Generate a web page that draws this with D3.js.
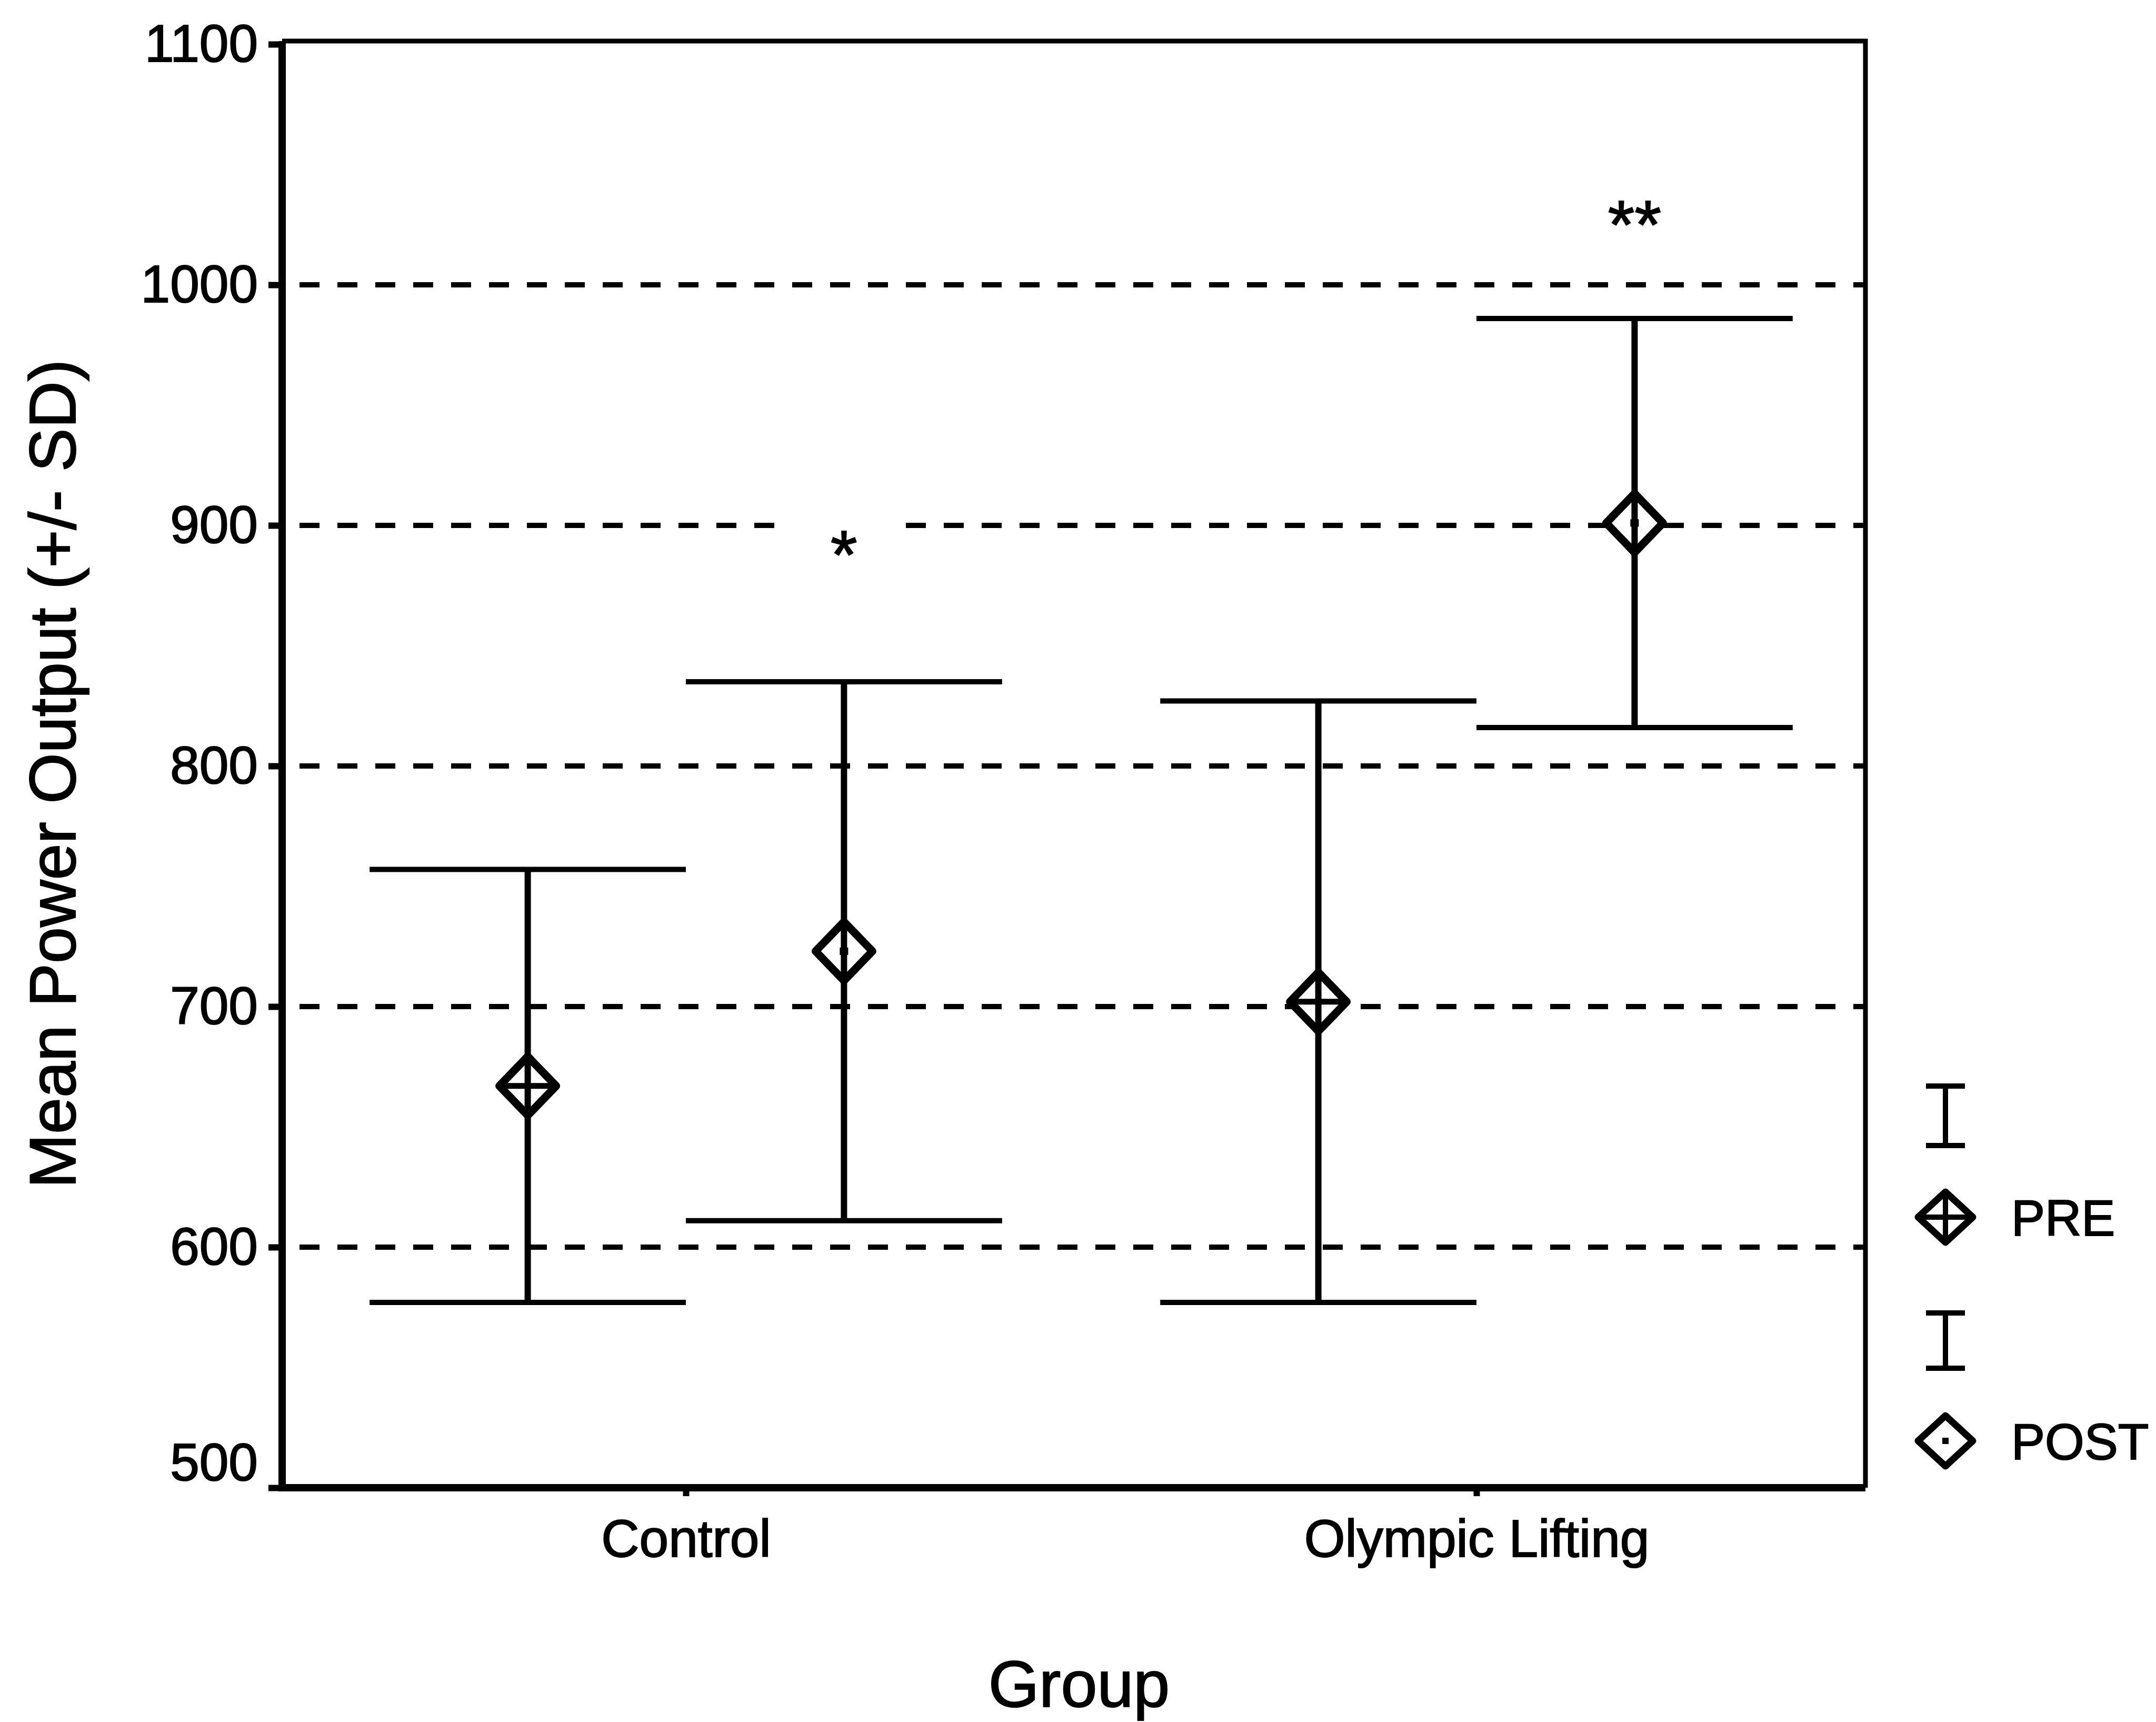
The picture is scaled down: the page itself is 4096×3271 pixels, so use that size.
<!DOCTYPE html>
<meta charset="utf-8">
<style>
body { margin: 0; background: #fff; }
svg text { font-family: "Liberation Sans", Arial, sans-serif; fill: #000; stroke: #000; stroke-width: 2px; }
.grid line { stroke: #000; stroke-width: 10; stroke-dasharray: 38 34; }
.axis .domain { stroke: #000; stroke-width: 14; }
.axis .tick line { stroke: #000; stroke-width: 12; }
.axis .tick text { font-size: 100px; }
</style>
<div id="chart"></div>
<script src="https://d3js.org/d3.v7.min.js"></script>
<script>

// data
var groups = ["Control", "Olympic Lifting"];
var series = ["PRE", "POST"];
var preMean = [667, 702];
var preSD = [90, 125];
var postMean = [723, 901];
var postSD = [112, 85];
var yTicks = [500, 600, 700, 800, 900, 1000, 1100];
var gridTicks = [600, 700, 800, 900, 1000];
var sigLabels = ["*", "**"];
var sigValues = [878, 1015];

var width = 4096, height = 3271;
var plotLeft = 536, plotRight = 3544, plotTop = 84, plotBottom = 2826;

var svg = d3.select("#chart")
    .append("svg")
    .attr("width", width)
    .attr("height", height);

var y = d3.scaleLinear().domain([500, 1100]).range([plotBottom, plotTop]);
var x = d3.scalePoint().domain(groups).range([552, 3556]).padding(0.5);
var sub = d3.scaleBand().domain(series).range([-0.4 * x.step(), 0.4 * x.step()]);

var rows = [];
groups.forEach(function(g, i) {
  rows.push({group: g, series: "PRE", mean: preMean[i], sd: preSD[i]});
  rows.push({group: g, series: "POST", mean: postMean[i], sd: postSD[i]});
});

// dashed grid lines
svg.append("g")
    .attr("class", "grid")
  .selectAll("line")
  .data(gridTicks)
  .enter().append("line")
    .attr("x1", plotLeft + 33)
    .attr("x2", plotRight)
    .attr("y1", function(d) { return y(d); })
    .attr("y2", function(d) { return y(d); });

// frame (top and right)
svg.append("path")
    .attr("d", "M" + plotLeft + "," + (plotTop - 6) + "H" + plotRight + "V" + plotBottom)
    .attr("fill", "none")
    .attr("stroke", "#000")
    .attr("stroke-width", 9);

// axes
var yAxis = svg.append("g")
    .attr("class", "axis")
    .attr("transform", "translate(" + plotLeft + ",0)")
    .call(d3.axisLeft(y).tickValues(yTicks).tickFormat(d3.format("d"))
        .tickSize(26).tickSizeOuter(0).tickPadding(20));
yAxis.select(".domain").attr("d", "M0," + (plotTop - 6) + "V" + plotBottom);
yAxis.selectAll(".tick text").filter(function(d) { return d == 500; }).attr("dy", "-0.15em");

var xAxis = svg.append("g")
    .attr("class", "axis")
    .attr("transform", "translate(0," + plotBottom + ")")
    .call(d3.axisBottom(x).tickSize(16).tickSizeOuter(0).tickPadding(44));
xAxis.select(".domain").attr("d", "M" + (plotLeft - 7) + ",0H" + plotRight);

// markers
function diamond(cx, cy, w, h) {
  return "M" + cx + "," + (cy - h) + "L" + (cx + w) + "," + cy + "L" + cx + "," + (cy + h) + "L" + (cx - w) + "," + cy + "Z";
}

var marks = svg.append("g");

var bars = marks.selectAll("g.bar")
  .data(rows)
  .enter().append("g")
    .attr("class", "bar")
    .attr("transform", function(d) { return "translate(" + (x(d.group) + sub(d.series) + sub.bandwidth() / 2) + ",0)"; });

bars.append("path")
    .attr("d", function(d) { return diamond(0, y(d.mean), 54, 56); })
    .attr("fill", "#fff")
    .attr("stroke", "#000")
    .attr("stroke-width", 15)
    .attr("stroke-linejoin", "round");

bars.append("line")
    .attr("x1", 0).attr("x2", 0)
    .attr("y1", function(d) { return y(d.mean + d.sd); })
    .attr("y2", function(d) { return y(d.mean - d.sd); })
    .attr("stroke", "#000")
    .attr("stroke-width", 12);

bars.selectAll("line.cap")
  .data(function(d) { return [d.mean + d.sd, d.mean - d.sd]; })
  .enter().append("line")
    .attr("class", "cap")
    .attr("x1", -sub.bandwidth() / 2)
    .attr("x2", sub.bandwidth() / 2)
    .attr("y1", function(v) { return y(v); })
    .attr("y2", function(v) { return y(v); })
    .attr("stroke", "#000")
    .attr("stroke-width", 10);

bars.filter(function(d) { return d.series == "PRE"; })
  .append("line")
    .attr("x1", -50).attr("x2", 50)
    .attr("y1", function(d) { return y(d.mean); })
    .attr("y2", function(d) { return y(d.mean); })
    .attr("stroke", "#000")
    .attr("stroke-width", 11);

bars.filter(function(d) { return d.series == "POST"; })
  .append("rect")
    .attr("x", -8).attr("width", 16)
    .attr("y", function(d) { return y(d.mean) - 7; })
    .attr("height", 14)
    .attr("fill", "#000");

// significance marks with white knockout
var sig = svg.append("g");
groups.forEach(function(g, i) {
  var cx = x(g) + sub("POST") + sub.bandwidth() / 2;
  var bg = sig.append("rect").attr("fill", "#fff");
  var t = sig.append("text")
      .attr("x", cx)
      .attr("y", y(sigValues[i]))
      .attr("text-anchor", "middle")
      .style("font-size", "130px")
      .text(sigLabels[i]);
  var b = t.node().getBBox();
  bg.attr("x", b.x - 92).attr("y", b.y).attr("width", b.width + 184).attr("height", b.height);
});

// legend
var legend = svg.append("g").attr("transform", "translate(3696,0)");
var legendRows = [
  {name: "PRE", barTop: 2063, barBottom: 2176, mark: 2312},
  {name: "POST", barTop: 2494, barBottom: 2599, mark: 2737}
];
legendRows.forEach(function(r) {
  legend.append("line").attr("x1", 0).attr("x2", 0).attr("y1", r.barTop).attr("y2", r.barBottom)
      .attr("stroke", "#000").attr("stroke-width", 10);
  [r.barTop, r.barBottom].forEach(function(v) {
    legend.append("line").attr("x1", -37).attr("x2", 37).attr("y1", v).attr("y2", v)
        .attr("stroke", "#000").attr("stroke-width", 10);
  });
  legend.append("path")
      .attr("d", diamond(0, r.mark, 52, 48))
      .attr("fill", "#fff")
      .attr("stroke", "#000")
      .attr("stroke-width", 13)
      .attr("stroke-linejoin", "round");
  if (r.name == "PRE") {
    legend.append("line").attr("x1", 0).attr("x2", 0).attr("y1", r.mark - 48).attr("y2", r.mark + 48)
        .attr("stroke", "#000").attr("stroke-width", 10);
    legend.append("line").attr("x1", -48).attr("x2", 48).attr("y1", r.mark).attr("y2", r.mark)
        .attr("stroke", "#000").attr("stroke-width", 10);
  } else {
    legend.append("rect").attr("x", -6).attr("y", r.mark - 6).attr("width", 12).attr("height", 12).attr("fill", "#000");
  }
  legend.append("text")
      .attr("x", 125)
      .attr("y", r.mark)
      .attr("dy", "0.36em")
      .style("font-size", "96px")
      .text(r.name);
});

// axis titles
svg.append("text")
    .attr("x", 2050)
    .attr("y", 3242)
    .attr("text-anchor", "middle")
    .style("font-size", "124px")
    .text("Group");

svg.append("text")
    .attr("transform", "translate(143,1470) rotate(-90)")
    .attr("text-anchor", "middle")
    .style("font-size", "124px")
    .text("Mean Power Output (+/- SD)");

</script>
